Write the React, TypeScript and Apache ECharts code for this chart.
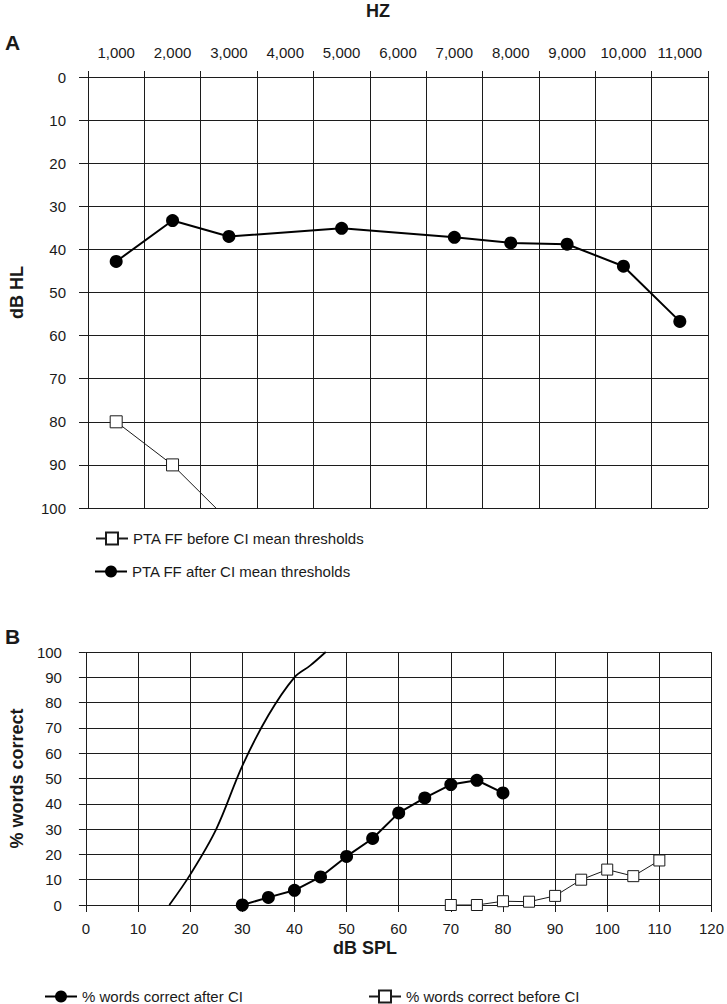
import React, { useEffect, useRef } from "react";
import * as echarts from "echarts";

// Panel A: pure-tone audiometry (frequency in Hz, threshold in dB HL)
const hzLabels = [1000, 2000, 3000, 4000, 5000, 6000, 7000, 8000, 9000, 10000, 11000];
const hzMajorTicks = [500, 1500, 2500, 3500, 4500, 5500, 6500, 7500, 8500, 9500, 10500, 11500];
const beforeFreq = [1000, 2000, 3000];
const beforeDb = [80, 90, 103];
const afterFreq = [1000, 2000, 3000, 5000, 7000, 8000, 9000, 10000, 11000];
const afterDb = [42.8, 33.3, 37.0, 35.1, 37.2, 38.5, 38.8, 43.9, 56.7];

// Panel B: speech audiometry (dB SPL vs % words correct)
const normSpl = [16, 20, 25, 30, 35, 40, 43, 46];
const normPct = [0, 12, 30, 55, 75, 90, 94.6, 100];
const afterSpl = [30, 35, 40, 45, 50, 55, 60, 65, 70, 75, 80];
const afterPct = [0, 3.0, 5.8, 11.1, 19.2, 26.3, 36.4, 42.3, 47.6, 49.3, 44.3];
const beforeSpl = [70, 75, 80, 85, 90, 95, 100, 105, 110];
const beforePct = [0, 0, 1.5, 1.3, 3.6, 10.0, 14.0, 11.4, 17.6];

const FONT = "'Liberation Sans', Arial, sans-serif";
const TXT = "#1a1a1a";
const GRID = "#1c1c1c";

const pairs = (xs: number[], ys: number[]) => xs.map((x, i) => [x, ys[i]]);
const fmtThousands = (v: number) => String(v).replace(/\B(?=(\d{3})+(?!\d))/g, ",");

export default function App() {
  const ref = useRef<HTMLDivElement>(null);
  useEffect(() => {
    document.body.style.margin = "0";
    const chart = echarts.init(ref.current!, null, { renderer: "svg" });
    const lineCommon = { clip: true, animation: false };
    const legendCommon = {
      orient: "horizontal" as const,
      padding: 0,
      itemWidth: 32,
      itemHeight: 15,
      textStyle: { color: TXT, fontSize: 15, fontFamily: FONT },
      selectedMode: false,
    };
    chart.setOption({
      animation: false,
      backgroundColor: "#fff",
      textStyle: { fontFamily: FONT },
      grid: [
        { left: 84, right: 19, top: 77, height: 431 },
        { left: 79, right: 15, top: 652, height: 253 },
      ],
      xAxis: [
        {
          gridIndex: 0,
          type: "value",
          position: "top",
          min: 500,
          max: 11500,
          interval: 500,
          axisLine: { show: false },
          axisTick: {
            show: true,
            customValues: hzMajorTicks,
            length: 6,
            lineStyle: { color: GRID, width: 1 },
          },
          axisLabel: {
            customValues: hzLabels,
            formatter: (v: number) => fmtThousands(v),
            color: TXT,
            fontSize: 15,
            fontFamily: FONT,
            margin: 17,
          },
          splitLine: { show: true, lineStyle: { color: GRID, width: 1 } },
        },
        {
          gridIndex: 1,
          type: "value",
          min: 0,
          max: 120,
          interval: 10,
          axisLine: { show: false },
          axisTick: { show: true, length: 7, lineStyle: { color: GRID } },
          axisLabel: { color: TXT, fontSize: 15, fontFamily: FONT, margin: 16 },
          splitLine: { show: true, lineStyle: { color: GRID, width: 1 } },
        },
      ],
      yAxis: [
        {
          gridIndex: 0,
          type: "value",
          inverse: true,
          min: 0,
          max: 100,
          interval: 10,
          name: "dB HL",
          nameLocation: "middle",
          nameRotate: 90,
          nameGap: 62,
          nameTextStyle: { color: TXT, fontSize: 18, fontWeight: "bold", fontFamily: FONT },
          axisLine: { show: false },
          axisTick: { show: true, length: 9, lineStyle: { color: GRID } },
          axisLabel: { color: TXT, fontSize: 15, fontFamily: FONT, margin: 22 },
          splitLine: { show: true, lineStyle: { color: GRID, width: 1 } },
        },
        {
          gridIndex: 1,
          type: "value",
          min: 0,
          max: 100,
          interval: 10,
          name: "% words correct",
          nameLocation: "middle",
          nameRotate: 90,
          nameGap: 58,
          nameTextStyle: { color: TXT, fontSize: 18, fontWeight: "bold", fontFamily: FONT },
          axisLine: { show: false },
          axisTick: { show: true, length: 7, lineStyle: { color: GRID } },
          axisLabel: { color: TXT, fontSize: 15, fontFamily: FONT, margin: 24 },
          splitLine: { show: true, lineStyle: { color: GRID, width: 1 } },
        },
      ],
      legend: [
        { ...legendCommon, data: ["PTA FF before CI mean thresholds"], left: 95, top: 531 },
        { ...legendCommon, data: ["PTA FF after CI mean thresholds"], left: 94, top: 564 },
        { ...legendCommon, data: ["% words correct after CI"], left: 44, top: 989 },
        { ...legendCommon, data: ["% words correct before CI"], left: 368, top: 989 },
      ],
      graphic: [
        { type: "text", left: 5, top: 32, style: { text: "A", fontSize: 21, fontWeight: "bold", fill: TXT, fontFamily: FONT } },
        { type: "text", left: 5, top: 626, style: { text: "B", fontSize: 21, fontWeight: "bold", fill: TXT, fontFamily: FONT } },
        { type: "text", x: 378, y: 11, style: { text: "HZ", fontSize: 18, fontWeight: "bold", fill: TXT, fontFamily: FONT, align: "center", verticalAlign: "middle" } },
        { type: "text", x: 365, y: 948, style: { text: "dB SPL", fontSize: 18, fontWeight: "bold", fill: TXT, fontFamily: FONT, align: "center", verticalAlign: "middle" } },
      ],
      series: [
        {
          ...lineCommon,
          type: "line",
          name: "PTA FF before CI mean thresholds",
          xAxisIndex: 0,
          yAxisIndex: 0,
          data: pairs(beforeFreq, beforeDb),
          symbol: "rect",
          symbolSize: 12,
          itemStyle: { color: "#fff", borderColor: "#1a1a1a", borderWidth: 1 },
          lineStyle: { color: "#1a1a1a", width: 1 },
        },
        {
          ...lineCommon,
          type: "line",
          name: "PTA FF after CI mean thresholds",
          xAxisIndex: 0,
          yAxisIndex: 0,
          data: pairs(afterFreq, afterDb),
          symbol: "circle",
          symbolSize: 13,
          itemStyle: { color: "#000" },
          lineStyle: { color: "#000", width: 2 },
        },
        {
          ...lineCommon,
          type: "line",
          name: "normal hearing",
          xAxisIndex: 1,
          yAxisIndex: 1,
          data: pairs(normSpl, normPct),
          smooth: 0.35,
          showSymbol: false,
          symbol: "none",
          lineStyle: { color: "#000", width: 1.8 },
        },
        {
          ...lineCommon,
          type: "line",
          name: "% words correct after CI",
          xAxisIndex: 1,
          yAxisIndex: 1,
          data: pairs(afterSpl, afterPct),
          symbol: "circle",
          symbolSize: 13,
          itemStyle: { color: "#000" },
          lineStyle: { color: "#000", width: 2 },
        },
        {
          ...lineCommon,
          type: "line",
          name: "% words correct before CI",
          xAxisIndex: 1,
          yAxisIndex: 1,
          data: pairs(beforeSpl, beforePct),
          symbol: "rect",
          symbolSize: 11,
          itemStyle: { color: "#fff", borderColor: "#1a1a1a", borderWidth: 1 },
          lineStyle: { color: "#1a1a1a", width: 1 },
        },
      ],
    });
    return () => chart.dispose();
  }, []);
  return (
    <div
      ref={ref}
      style={{ position: "absolute", left: 0, top: 0, width: 727, height: 1004 }}
    />
  );
}
